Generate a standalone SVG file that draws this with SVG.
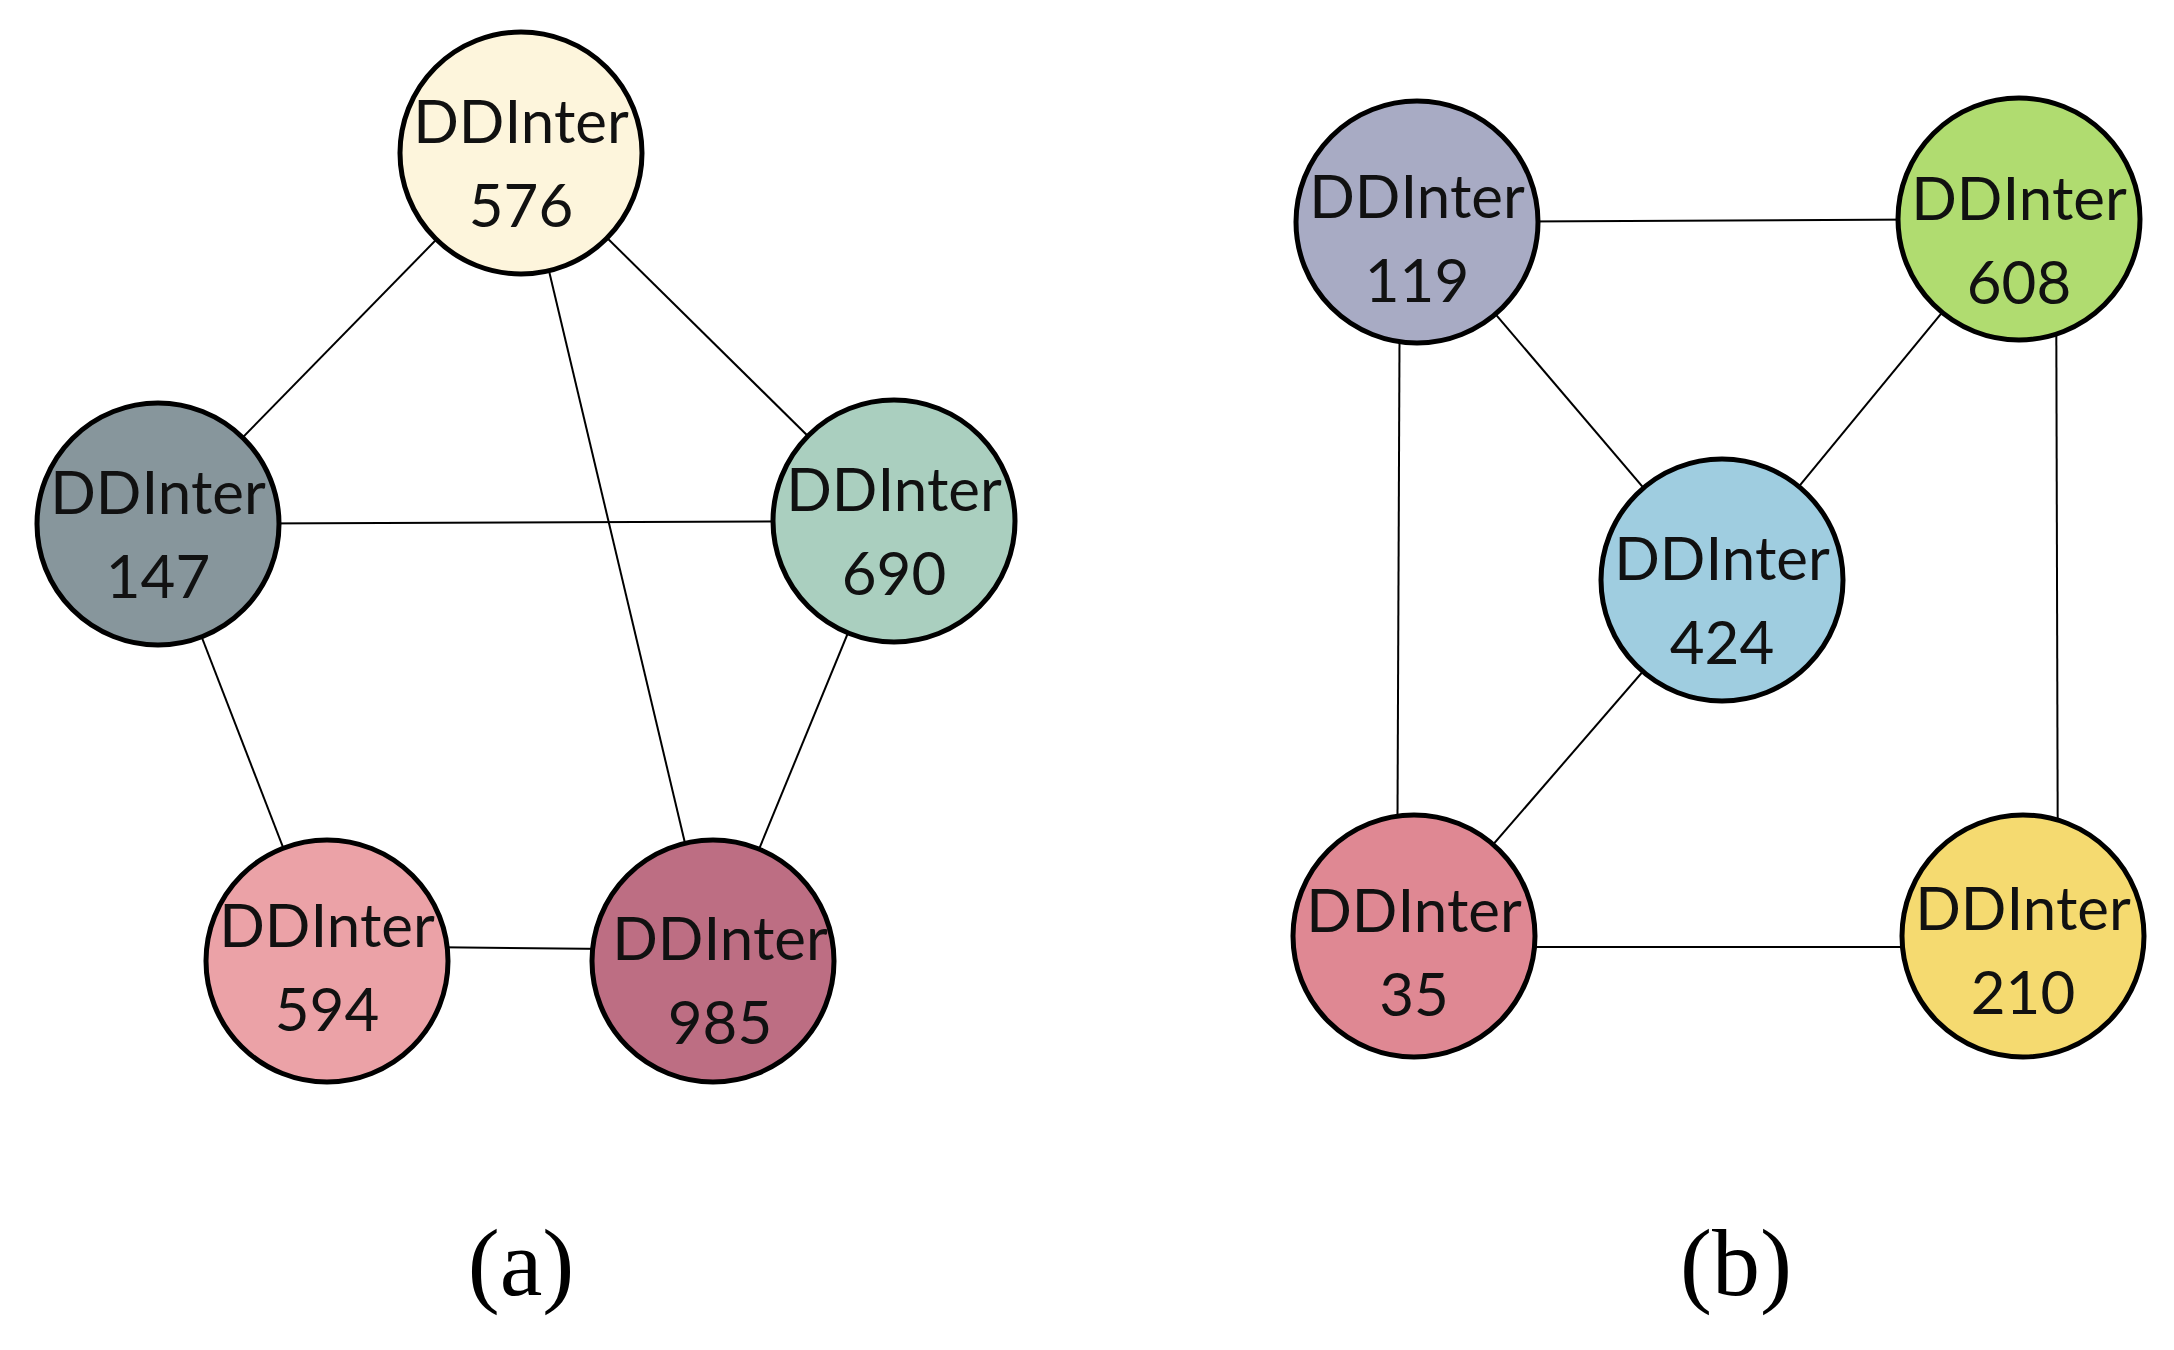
<svg xmlns="http://www.w3.org/2000/svg" width="2174" height="1350" viewBox="0 0 2174 1350">
<style>
.n{stroke:#000;stroke-width:5}
.t{font-family:Lato,"Open Sans",sans-serif;font-size:60px;fill:#111;text-anchor:middle}
.e line{stroke:#000;stroke-width:2}
.cap{font-family:"Liberation Serif",serif;font-size:96px;text-anchor:middle}
</style>
<rect width="2174" height="1350" fill="#fff"/>
<g class="e" id="connectors">
<line x1="521" y1="153" x2="158" y2="524"/>
<line x1="521" y1="153" x2="894" y2="521"/>
<line x1="521" y1="153" x2="713" y2="961"/>
<line x1="158" y1="524" x2="894" y2="521"/>
<line x1="158" y1="524" x2="327" y2="961"/>
<line x1="327" y1="946" x2="713" y2="950"/>
<line x1="894" y1="521" x2="713" y2="961"/>
<line x1="1417" y1="222" x2="2019" y2="219"/>
<line x1="1417" y1="222" x2="1722" y2="580"/>
<line x1="1400" y1="222" x2="1397" y2="936"/>
<line x1="2019" y1="219" x2="1722" y2="580"/>
<line x1="2056" y1="219" x2="2058" y2="936"/>
<line x1="1722" y1="580" x2="1414" y2="936"/>
<line x1="1414" y1="947" x2="2023" y2="947"/>
</g>
<g id="n576"><circle class="n" cx="521" cy="153" r="121" fill="#fdf5dc"/><text class="t" x="521" y="143">DDInter</text><text class="t" x="521" y="227">576</text></g>
<g id="n147"><circle class="n" cx="158" cy="524" r="121" fill="#87969c"/><text class="t" x="158" y="514">DDInter</text><text class="t" x="158" y="598">147</text></g>
<g id="n690"><circle class="n" cx="894" cy="521" r="121" fill="#aacfbf"/><text class="t" x="894" y="511">DDInter</text><text class="t" x="894" y="595">690</text></g>
<g id="n594"><circle class="n" cx="327" cy="961" r="121" fill="#eba2a7"/><text class="t" x="327" y="947">DDInter</text><text class="t" x="327" y="1031">594</text></g>
<g id="n985"><circle class="n" cx="713" cy="961" r="121" fill="#bd6e83"/><text class="t" x="720" y="960">DDInter</text><text class="t" x="720" y="1044">985</text></g>
<g id="n119"><circle class="n" cx="1417" cy="222" r="121" fill="#a8abc4"/><text class="t" x="1417" y="218">DDInter</text><text class="t" x="1417" y="302">119</text></g>
<g id="n608"><circle class="n" cx="2019" cy="219" r="121" fill="#b0dc70"/><text class="t" x="2019" y="220">DDInter</text><text class="t" x="2019" y="304">608</text></g>
<g id="n424"><circle class="n" cx="1722" cy="580" r="121" fill="#9fcde0"/><text class="t" x="1722" y="580">DDInter</text><text class="t" x="1722" y="664">424</text></g>
<g id="n35"><circle class="n" cx="1414" cy="936" r="121" fill="#df8893"/><text class="t" x="1414" y="932">DDInter</text><text class="t" x="1414" y="1016">35</text></g>
<g id="n210"><circle class="n" cx="2023" cy="936" r="121" fill="#f5da70"/><text class="t" x="2023" y="930">DDInter</text><text class="t" x="2023" y="1014">210</text></g>
<text class="cap" x="521" y="1295">(a)</text>
<text class="cap" x="1736" y="1295">(b)</text>
</svg>
